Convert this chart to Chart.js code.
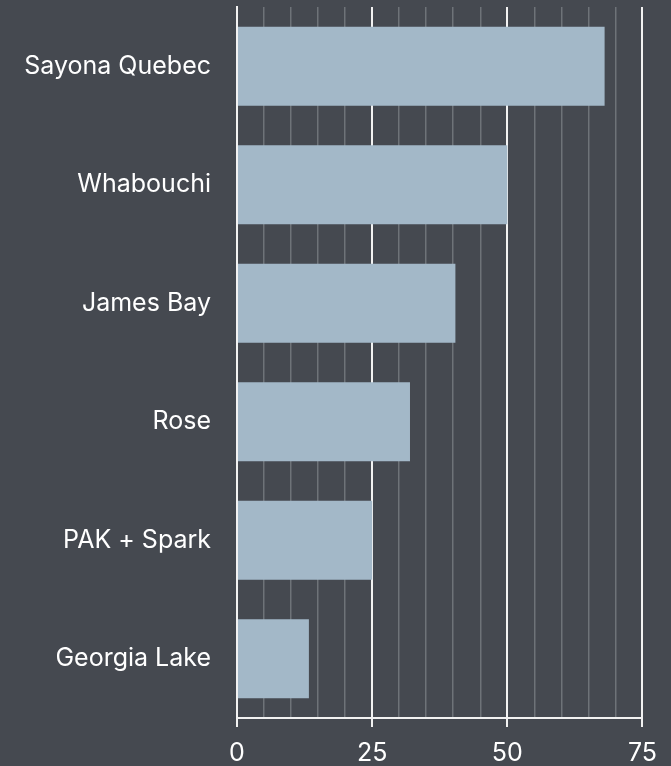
<!DOCTYPE html>
<html><head><meta charset="utf-8">
<script src="https://cdn.jsdelivr.net/npm/chart.js@4/dist/chart.umd.min.js"></script>
<style>html,body{margin:0;padding:0;background:#454950;}#wrap{width:671px;height:766px;position:relative;}</style>
</head><body><div id="wrap"><canvas id="c"></canvas></div>
<script>
const categories = ["Sayona Quebec","Whabouchi","James Bay","Rose","PAK + Spark","Georgia Lake"];
const values = [68, 50, 40.4, 32, 25, 13.3];
const majorTicks = [0, 25, 50, 75];

const FONT = "Inter, 'Noto Sans', sans-serif";
const isMajor = c => majorTicks.includes(c.tick && c.tick.value);
new Chart(document.getElementById('c'), {
  type: 'bar',
  data: { labels: categories, datasets: [{ data: values, backgroundColor: '#a3b8c8', borderWidth: 0, barPercentage: 0.667, categoryPercentage: 1 }] },
  options: {
    indexAxis: 'y', responsive: true, maintainAspectRatio: false, animation: false,
    layout: { padding: { top: 7, right: 28, bottom: 0, left: 0 } },
    plugins: { legend: { display: false }, tooltip: { enabled: false } },
    scales: {
      x: {
        min: 0, max: 75,
        afterFit: s => { s.height = 48; },
        ticks: { stepSize: 5, autoSkip: false, color: '#ffffff', font: { family: FONT, size: 25, lineHeight: 1.0 }, padding: 14,
          callback: v => majorTicks.includes(v) ? String(v) : '', maxRotation: 0 },
        grid: {
          color: c => isMajor(c) ? '#f2f2f2' : '#6e7378',
          lineWidth: c => isMajor(c) ? 2 : 1.5,
          tickColor: c => isMajor(c) ? '#f2f2f2' : 'rgba(0,0,0,0)',
          tickLength: 9
        },
        border: { color: '#f2f2f2', width: 2 }
      },
      y: {
        afterFit: s => { s.width = 237; },
        ticks: { color: '#ffffff', font: { family: FONT, size: 25, lineHeight: 0.56 }, padding: 0 },
        grid: { display: true, drawOnChartArea: false, color: 'rgba(0,0,0,0)', tickLength: 26 },
        border: { color: '#f2f2f2', width: 2 }
      }
    }
  }
});
</script></body></html>
